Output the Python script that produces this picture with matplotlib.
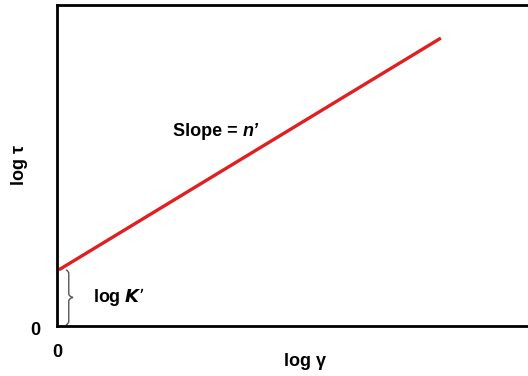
import matplotlib
matplotlib.use("Agg")
import matplotlib.pyplot as plt
from matplotlib.path import Path
from matplotlib.patches import PathPatch

plt.rcParams['font.family'] = ['Liberation Sans', 'DejaVu Sans']

# line in abstract log units (axes span 0..1 on both)
log_gamma = [0.004, 0.815]
log_tau = [0.175, 0.897]
intercept = log_tau[0]
origin_label = '0'

W, H = 528, 376
fig = plt.figure(figsize=(W / 100, H / 100), dpi=100)
# left spine at x=57px, bottom at y=326px, top at y=5px; right edge runs off the image
ax = fig.add_axes([57 / W, 50 / H, 1.0 - 57 / W, 321 / H])
ax.set_xlim(0, 1)
ax.set_ylim(0, 1)

ax.plot(log_gamma, log_tau, color='#e02020', lw=2.4, solid_capstyle='butt')

for s in ['left', 'bottom', 'top']:
    ax.spines[s].set_linewidth(2.0)
ax.spines['right'].set_visible(False)

ax.set_xticks([0])
ax.set_yticks([])
ax.set_xticklabels([origin_label], fontsize=13, fontweight='bold')
ax.tick_params(length=0)
ax.tick_params(axis='x', pad=13)
# y origin label sits a little below the bottom spine
ax.text(-0.047, -0.0125, origin_label, fontsize=13, fontweight='bold',
        ha='center', va='center', transform=ax.transAxes, clip_on=False)

# axis titles placed in figure pixels
fig.text(305 / W, 1 - 362 / H, 'log γ', fontsize=13, fontweight='bold',
         ha='center', va='center')
fig.text(20 / W, 1 - 165 / H, 'log τ', fontsize=13, fontweight='bold',
         ha='center', va='center', rotation=90)

# curly brace marking the intercept
bx, tip = 0.025, 0.034
y0, y1 = 0.003, intercept
ym = (y0 + y1) / 2
verts = [(bx - 0.006, y1), (bx, y1 - 0.004), (bx, y1 - 0.012),
         (bx, ym + 0.012), (bx, ym + 0.003), (tip, ym),
         (bx, ym - 0.003), (bx, ym - 0.012),
         (bx, y0 + 0.012), (bx, y0 + 0.004), (bx - 0.006, y0)]
codes = [Path.MOVETO, Path.CURVE3, Path.CURVE3,
         Path.LINETO, Path.CURVE3, Path.CURVE3,
         Path.CURVE3, Path.CURVE3,
         Path.LINETO, Path.CURVE3, Path.CURVE3]
ax.add_patch(PathPatch(Path(verts, codes), fill=False, edgecolor='#555555', lw=1.0))

ax.text(0.076, ym, r'log $\boldsymbol{K}$’', fontsize=13, fontweight='bold',
        va='center', ha='left')
slope = ax.text(0.246, 0.606, 'Slope =', fontsize=13, fontweight='bold',
                va='center', ha='left')
ax.annotate('n’', xy=(1, 0), xycoords=slope, xytext=(4, 0),
            textcoords='offset points', fontsize=13, fontweight='bold',
            style='italic', va='bottom', ha='left')

fig.savefig('out.png', dpi=100)
